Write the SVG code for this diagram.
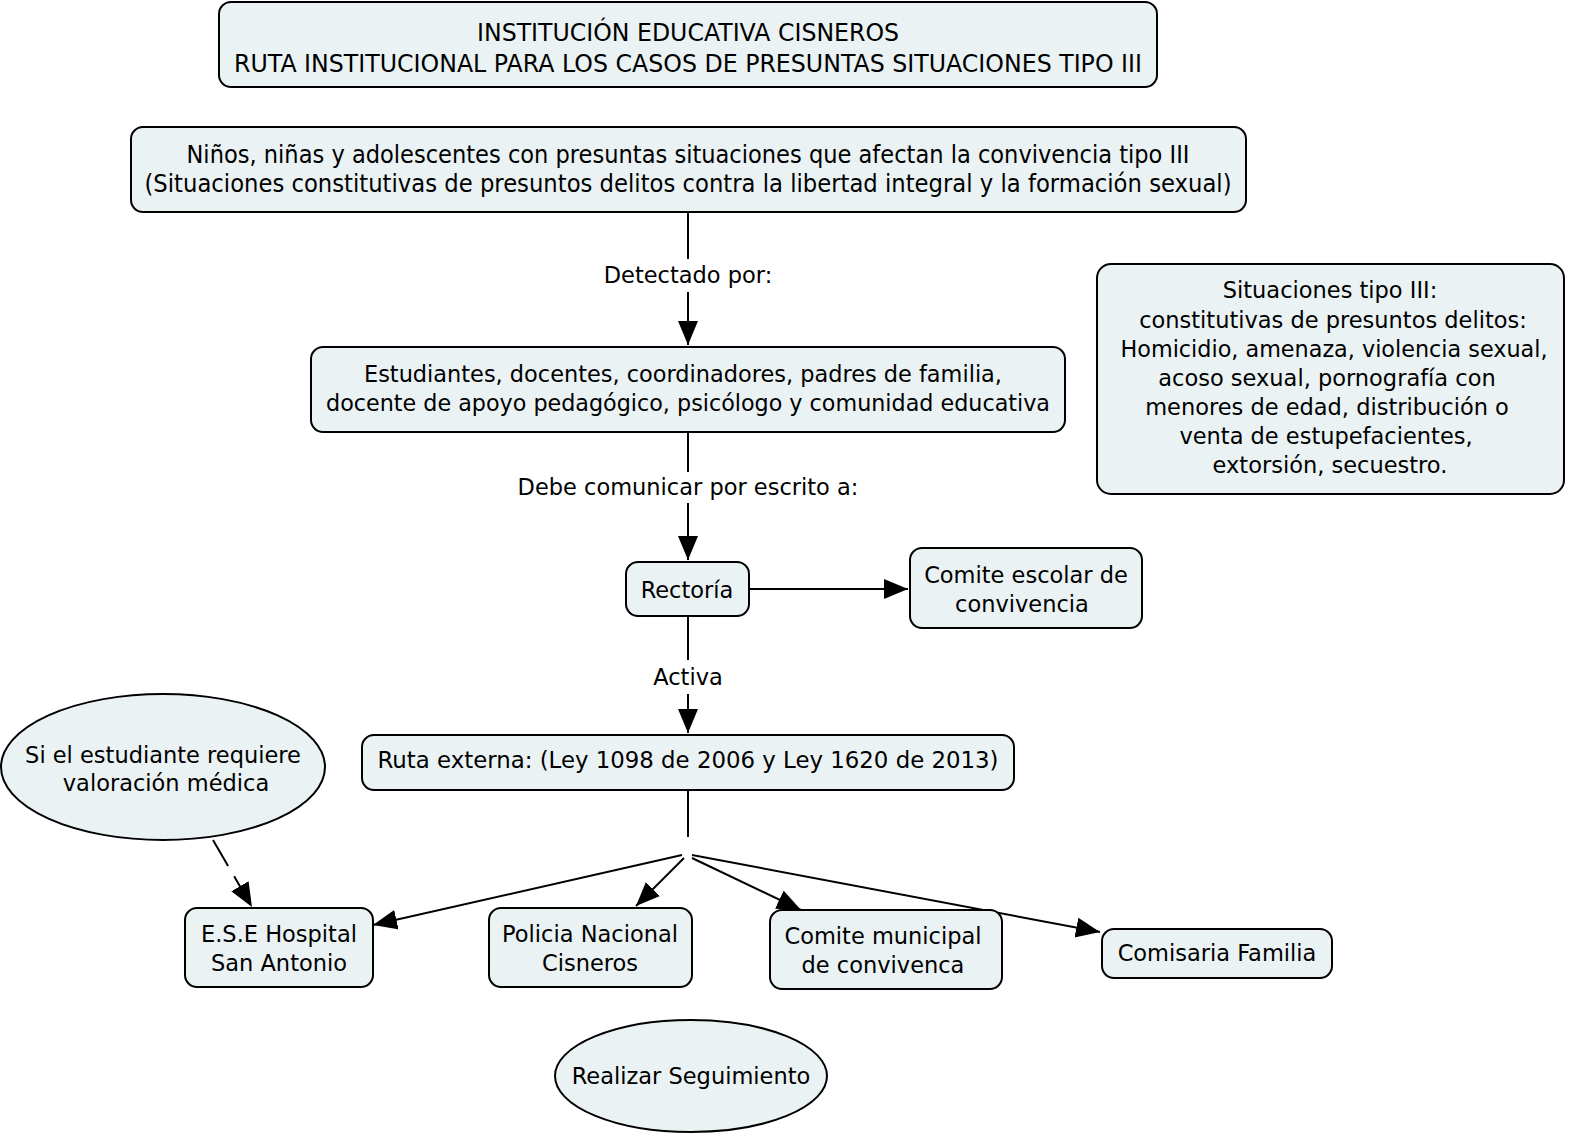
<svg xmlns="http://www.w3.org/2000/svg" width="1569" height="1136" viewBox="0 0 1569 1136">
<style>
.n{fill:#eaf2f4;stroke:#000;stroke-width:2}
.t{font-family:"DejaVu Sans",Verdana,sans-serif;font-size:22.5px;fill:#000;text-anchor:middle}
.c{font-family:"DejaVu Sans",Verdana,sans-serif;font-size:24px;fill:#000;text-anchor:middle}
.l{stroke:#000;stroke-width:2;fill:none}
</style>
<defs>
<marker id="a" markerUnits="userSpaceOnUse" markerWidth="26" markerHeight="22" refX="24" refY="10" orient="auto">
<path d="M0,0 L24,10 L0,20 Z" fill="#000"/>
</marker>
</defs>
<rect width="1569" height="1136" fill="#fff"/>
<g id="connectors">
<line class="l" x1="688" y1="212" x2="688" y2="259"/>
<line class="l" x1="688" y1="292" x2="688" y2="345" marker-end="url(#a)"/>
<text class="t" x="688" y="283">Detectado por:</text>
<line class="l" x1="688" y1="432" x2="688" y2="472"/>
<line class="l" x1="688" y1="503" x2="688" y2="560" marker-end="url(#a)"/>
<text class="t" x="688" y="495">Debe comunicar por escrito a:</text>
<line class="l" x1="749" y1="589" x2="908" y2="589" marker-end="url(#a)"/>
<line class="l" x1="688" y1="616" x2="688" y2="660"/>
<line class="l" x1="688" y1="694" x2="688" y2="733" marker-end="url(#a)"/>
<text class="t" x="688" y="685">Activa</text>
<line class="l" x1="688" y1="790" x2="688" y2="837"/>
<line class="l" x1="682" y1="855" x2="373" y2="925" marker-end="url(#a)"/>
<line class="l" x1="684" y1="858" x2="636" y2="906" marker-end="url(#a)"/>
<line class="l" x1="692" y1="858" x2="801" y2="910" marker-end="url(#a)"/>
<line class="l" x1="692" y1="855" x2="1100" y2="932" marker-end="url(#a)"/>
<line class="l" x1="213" y1="840" x2="252" y2="907" stroke-dasharray="30,12" marker-end="url(#a)"/>
</g>
<g id="title">
<rect class="n" x="219" y="2" width="938" height="85" rx="12"/>
<text class="c" x="688" y="41" textLength="422" lengthAdjust="spacingAndGlyphs">INSTITUCIÓN EDUCATIVA CISNEROS</text>
<text class="c" x="688" y="72" textLength="908" lengthAdjust="spacingAndGlyphs">RUTA INSTITUCIONAL PARA LOS CASOS DE PRESUNTAS SITUACIONES TIPO III</text>
</g>
<g id="ninos">
<rect class="n" x="131" y="127" width="1115" height="85" rx="12"/>
<text class="c" x="688" y="163" textLength="1003" lengthAdjust="spacingAndGlyphs">Niños, niñas y adolescentes con presuntas situaciones que afectan la convivencia tipo III</text>
<text class="c" x="688" y="192" textLength="1087" lengthAdjust="spacingAndGlyphs">(Situaciones constitutivas de presuntos delitos contra la libertad integral  y la formación sexual)</text>
</g>
<g id="estudiantes">
<rect class="n" x="311" y="347" width="754" height="85" rx="12"/>
<text class="t" x="683" y="382" textLength="638" lengthAdjust="spacingAndGlyphs">Estudiantes, docentes, coordinadores, padres de familia,</text>
<text class="t" x="688" y="411" textLength="724" lengthAdjust="spacingAndGlyphs">docente de apoyo pedagógico, psicólogo y comunidad educativa</text>
</g>
<g id="situaciones">
<rect class="n" x="1097" y="264" width="467" height="230" rx="14"/>
<text class="t" x="1330" y="298">Situaciones tipo III:</text>
<text class="t" x="1333" y="328">constitutivas de presuntos delitos:</text>
<text class="t" x="1334" y="357" textLength="427" lengthAdjust="spacingAndGlyphs">Homicidio, amenaza, violencia sexual,</text>
<text class="t" x="1327" y="386">acoso sexual, pornografía con</text>
<text class="t" x="1327" y="415">menores de edad, distribución o</text>
<text class="t" x="1326" y="444">venta de estupefacientes,</text>
<text class="t" x="1330" y="473">extorsión, secuestro.</text>
</g>
<g id="rectoria">
<rect class="n" x="626" y="562" width="123" height="54" rx="12"/>
<text class="t" x="687" y="598">Rectoría</text>
</g>
<g id="comite-escolar">
<rect class="n" x="910" y="548" width="232" height="80" rx="12"/>
<text class="t" x="1026" y="583">Comite escolar de</text>
<text class="t" x="1022" y="612">convivencia</text>
</g>
<g id="ruta-externa">
<rect class="n" x="362" y="735" width="652" height="55" rx="12"/>
<text class="t" x="688" y="768" textLength="621" lengthAdjust="spacingAndGlyphs">Ruta externa: (Ley 1098 de 2006 y Ley 1620 de 2013)</text>
</g>
<g id="valoracion">
<ellipse class="n" cx="163" cy="767" rx="162" ry="73"/>
<text class="t" x="163" y="763">Si el estudiante requiere</text>
<text class="t" x="166" y="791">valoración médica</text>
</g>
<g id="hospital">
<rect class="n" x="185" y="908" width="188" height="79" rx="12"/>
<text class="t" x="279" y="942">E.S.E Hospital</text>
<text class="t" x="279" y="971">San Antonio</text>
</g>
<g id="policia">
<rect class="n" x="489" y="908" width="203" height="79" rx="12"/>
<text class="t" x="590" y="942">Policia Nacional</text>
<text class="t" x="590" y="971">Cisneros</text>
</g>
<g id="comite-municipal">
<rect class="n" x="770" y="910" width="232" height="79" rx="12"/>
<text class="t" x="883" y="944">Comite municipal</text>
<text class="t" x="883" y="973">de convivenca</text>
</g>
<g id="comisaria">
<rect class="n" x="1102" y="929" width="230" height="49" rx="12"/>
<text class="t" x="1217" y="961">Comisaria Familia</text>
</g>
<g id="seguimiento">
<ellipse class="n" cx="691" cy="1076" rx="136" ry="56"/>
<text class="t" x="691" y="1084">Realizar Seguimiento</text>
</g>
</svg>
